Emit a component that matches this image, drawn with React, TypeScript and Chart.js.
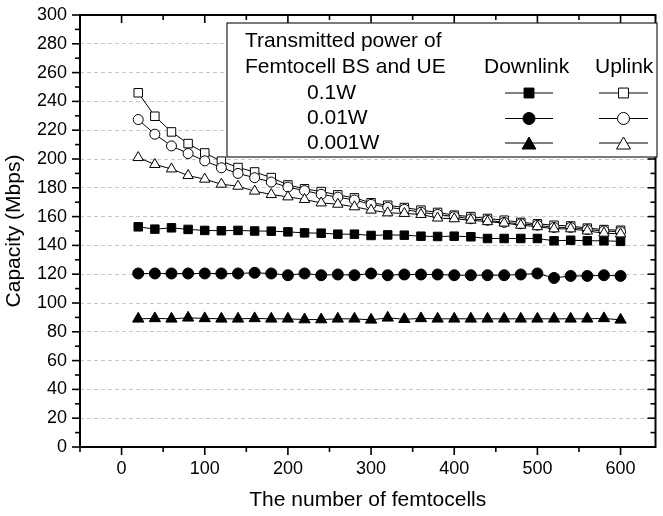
import React, { useEffect, useRef } from 'react';
import { Chart, registerables } from 'chart.js';

Chart.register(...registerables);

const femtocells = [20, 40, 60, 80, 100, 120, 140, 160, 180, 200, 220, 240, 260, 280, 300, 320, 340, 360, 380, 400, 420, 440, 460, 480, 500, 520, 540, 560, 580, 600];

const downlink01W = [152.9, 151.3, 152.2, 151.1, 150.4, 150.2, 150.4, 150.0, 149.9, 149.4, 148.7, 148.5, 147.8, 147.8, 146.9, 147.3, 147.1, 146.4, 146.2, 146.4, 146.0, 144.8, 144.8, 144.8, 144.8, 143.2, 143.6, 143.2, 143.2, 142.8];
const downlink001W = [120.5, 120.5, 120.5, 120.5, 120.5, 120.5, 120.5, 121.0, 120.5, 119.3, 120.5, 119.3, 119.8, 119.3, 120.5, 119.3, 119.8, 119.8, 119.8, 119.3, 119.3, 119.3, 119.3, 119.8, 120.5, 117.4, 118.8, 118.8, 119.3, 118.8];
const downlink0001W = [89.0, 89.3, 89.0, 89.7, 89.3, 89.0, 89.0, 89.3, 89.0, 89.0, 88.5, 88.5, 89.0, 89.0, 88.3, 89.7, 88.7, 89.3, 89.0, 89.0, 89.0, 89.0, 89.0, 89.0, 89.0, 89.0, 89.0, 89.0, 89.3, 88.3];

const uplink01W = [246.0, 229.7, 218.8, 210.7, 204.2, 198.5, 194.1, 191.0, 187.1, 182.0, 179.3, 177.4, 175.1, 173.0, 169.6, 167.9, 166.3, 164.5, 162.9, 161.0, 160.0, 158.7, 157.5, 156.0, 155.0, 154.0, 153.5, 152.0, 151.0, 150.5];
const uplink001W = [227.4, 217.2, 209.1, 203.8, 198.7, 193.9, 190.0, 187.0, 184.0, 180.5, 178.0, 175.5, 173.5, 171.5, 168.5, 166.5, 165.0, 163.0, 161.5, 160.0, 158.5, 157.5, 156.0, 155.0, 154.0, 152.5, 152.5, 151.0, 150.0, 149.5];
const uplink0001W = [201.0, 196.2, 193.1, 188.5, 186.0, 182.5, 181.1, 177.7, 175.3, 173.7, 171.9, 169.5, 168.6, 166.8, 164.5, 162.6, 162.2, 161.5, 159.0, 158.5, 157.5, 156.5, 155.5, 154.0, 153.0, 151.5, 151.5, 150.0, 148.5, 148.0];

const xTickValues = [0, 100, 200, 300, 400, 500, 600];
const yTickStep = 20;
const powerLabels = ['0.1W', '0.01W', '0.001W'];
const legendTitle = ['Transmitted power of', 'Femtocell BS and UE'];
const linkLabels = ['Downlink', 'Uplink'];

const FONT = '"Liberation Sans", Arial, Helvetica, sans-serif';

function drawMarker(ctx: CanvasRenderingContext2D, style: string, x: number, y: number, r: number, filled: boolean) {
  ctx.beginPath();
  if (style === 'rect') {
    const s = r * Math.SQRT1_2;
    ctx.rect(x - s, y - s, 2 * s, 2 * s);
  } else if (style === 'circle') {
    ctx.arc(x, y, r, 0, Math.PI * 2);
  } else {
    for (let i = 0; i < 3; i++) {
      const a = -Math.PI / 2 + (i * 2 * Math.PI) / 3;
      const px = x + Math.cos(a) * r;
      const py = y + Math.sin(a) * r + r * 0.25;
      if (i === 0) ctx.moveTo(px, py);
      else ctx.lineTo(px, py);
    }
    ctx.closePath();
  }
  ctx.fillStyle = filled ? '#000' : '#fff';
  ctx.fill();
  ctx.strokeStyle = '#000';
  ctx.lineWidth = 1;
  ctx.stroke();
}

const framePlugin = {
  id: 'framePlugin',
  afterDraw(chart: any) {
    const { ctx, chartArea: a, scales } = chart;
    const x = scales.x;
    const y = scales.y;
    ctx.save();
    ctx.strokeStyle = '#000';
    ctx.lineWidth = 2;
    ctx.strokeRect(a.left, a.top, a.right - a.left, a.bottom - a.top);
    const line = (x1: number, y1: number, x2: number, y2: number) => {
      ctx.beginPath();
      ctx.moveTo(x1, y1);
      ctx.lineTo(x2, y2);
      ctx.stroke();
    };
    ctx.lineWidth = 1.6;
    for (let v = -50; v <= 650; v += 50) {
      const px = x.getPixelForValue(v);
      if (px < a.left - 0.5 || px > a.right + 0.5) continue;
      const len = v % 100 === 0 ? 8 : 5;
      line(px, a.bottom, px, a.bottom + len);
      line(px, a.top, px, a.top + len);
    }
    for (let v = 0; v <= 300; v += 10) {
      const py = y.getPixelForValue(v);
      const len = v % 20 === 0 ? 8 : 5;
      line(a.left - len, py, a.left, py);
      line(a.right - len, py, a.right, py);
    }

    // legend box
    const bx = 227, by = 23, bw = 430, bh = 134;
    ctx.fillStyle = '#fff';
    ctx.fillRect(bx, by, bw, bh);
    ctx.strokeStyle = '#222';
    ctx.lineWidth = 1.2;
    ctx.strokeRect(bx, by, bw, bh);

    ctx.fillStyle = '#000';
    ctx.font = `21px ${FONT}`;
    ctx.textBaseline = 'middle';
    ctx.textAlign = 'left';
    ctx.fillText(legendTitle[0], 245, 41);
    ctx.fillText(legendTitle[1], 245, 67);
    ctx.fillText(linkLabels[0], 484, 67);
    ctx.fillText(linkLabels[1], 595, 67);
    const rowsY = [93, 118.5, 143];
    const styles = ['rect', 'circle', 'triangle'];
    const radii = [7, 6, 8];
    powerLabels.forEach((lbl, i) => {
      ctx.fillStyle = '#000';
      ctx.fillText(lbl, 307, rowsY[i]);
      ctx.strokeStyle = '#000';
      ctx.lineWidth = 1;
      line(505, rowsY[i], 553, rowsY[i]);
      line(599, rowsY[i], 648, rowsY[i]);
      drawMarker(ctx, styles[i], 529, rowsY[i], radii[i], true);
      drawMarker(ctx, styles[i], 623.5, rowsY[i], radii[i], false);
    });
    ctx.restore();
  },
};

function mkSet(label: string, data: number[], style: string, radius: number, filled: boolean) {
  return {
    label,
    data: femtocells.map((f, i) => ({ x: f, y: data[i] })),
    borderColor: '#000',
    borderWidth: 1,
    pointStyle: style,
    pointRadius: radius,
    pointBackgroundColor: filled ? '#000' : '#fff',
    pointBorderColor: '#000',
    pointBorderWidth: 1,
    showLine: true,
    tension: 0,
  };
}

export default function App() {
  const ref = useRef<HTMLCanvasElement | null>(null);
  useEffect(() => {
    if (!ref.current) return;
    const chart = new Chart(ref.current, {
      type: 'line',
      data: {
        datasets: [
          mkSet('Uplink 0.001W', uplink0001W, 'triangle', 6, false),
          mkSet('Uplink 0.01W', uplink001W, 'circle', 5, false),
          mkSet('Uplink 0.1W', uplink01W, 'rect', 6, false),
          mkSet('Downlink 0.1W', downlink01W, 'rect', 6, true),
          mkSet('Downlink 0.01W', downlink001W, 'circle', 5.5, true),
          mkSet('Downlink 0.001W', downlink0001W, 'triangle', 6.5, true),
        ] as any,
      },
      options: {
        animation: false,
        responsive: false,
        devicePixelRatio: 1,
        layout: { padding: { top: 15, right: -5, left: 0, bottom: 0 } },
        plugins: { legend: { display: false }, tooltip: { enabled: false } },
        scales: {
          x: {
            type: 'linear',
            min: -50,
            max: 642,
            afterBuildTicks: (s: any) => {
              s.ticks = xTickValues.map((v) => ({ value: v }));
            },
            afterFit: (s: any) => {
              s.height = 69;
              s.paddingLeft = 0;
              s.paddingRight = 0;
            },
            grid: { display: false, drawTicks: false },
            border: { display: false },
            ticks: { color: '#000', font: { family: FONT, size: 18 }, padding: 11, maxRotation: 0, autoSkip: false },
            title: {
              display: true,
              text: 'The number of femtocells',
              color: '#000',
              font: { family: FONT, size: 21 },
              padding: { top: 0, bottom: 3 },
            },
          },
          y: {
            type: 'linear',
            min: 0,
            max: 300,
            afterFit: (s: any) => {
              s.width = 80;
              s.paddingTop = 0;
              s.paddingBottom = 0;
            },
            grid: { color: '#c8c8c8', lineWidth: 1, drawTicks: false },
            border: { display: false, dash: [4, 3] },
            ticks: { stepSize: yTickStep, color: '#000', font: { family: FONT, size: 18 }, padding: 13 },
            title: {
              display: true,
              text: 'Capacity (Mbps)',
              color: '#000',
              font: { family: FONT, size: 21 },
              padding: { top: 2, bottom: 0 },
            },
          },
        },
      } as any,
      plugins: [framePlugin],
    });
    return () => chart.destroy();
  }, []);
  return (
    <div style={{ position: 'absolute', left: 0, top: 0, width: 663, height: 516, background: '#fff' }}>
      <canvas ref={ref} width={663} height={516} />
    </div>
  );
}
